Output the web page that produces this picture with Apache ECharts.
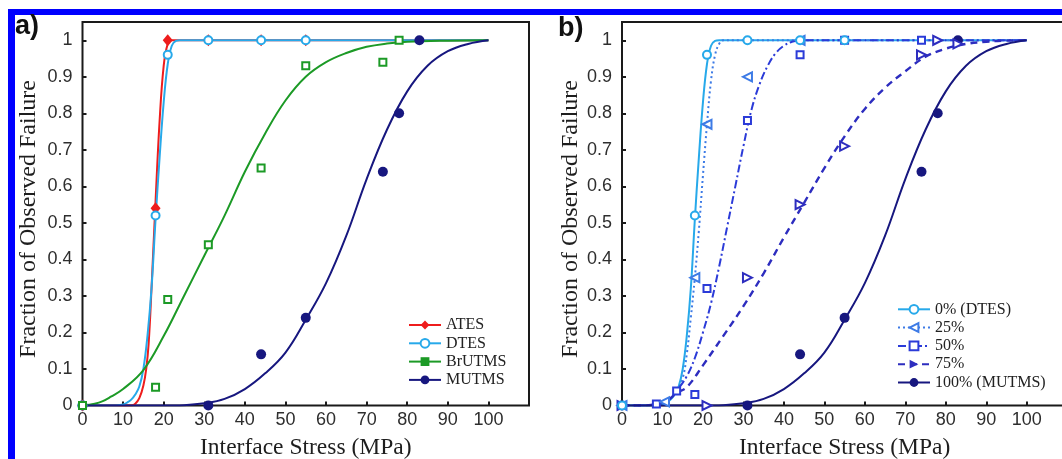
<!DOCTYPE html>
<html>
<head>
<meta charset="utf-8">
<script src="https://cdn.jsdelivr.net/npm/echarts@6/dist/echarts.min.js"></script>
<style>
html, body { margin: 0; padding: 0; background: #fff; }
#chart { width: 1062px; height: 459px; }
</style>
</head>
<body>
<div id="chart"></div>
<script>
// Fraction of observed failure versus interface stress (MPa)

// ---- panel a: measured points [stress, fraction] ----
const atesPts   = [[0, 0], [18, 0.54], [21, 1], [31, 1], [44, 1], [55, 1]];
const dtesPts   = [[0, 0], [18, 0.52], [21, 0.96], [31, 1], [44, 1], [55, 1]];
const brutmsPts = [[0, 0], [18, 0.05], [21, 0.29], [31, 0.44], [44, 0.65], [55, 0.93], [74, 0.94], [78, 1]];
const mutmsPts  = [[0, 0], [31, 0], [44, 0.14], [55, 0.24], [74, 0.64], [78, 0.8], [83, 1]];

// ---- fitted curves ----
const atesFit = [[0, 0], [12, 0], [13, 0.005], [14, 0.02], [15, 0.055], [15.7, 0.1], [16.3, 0.17], [17, 0.32],
  [18, 0.56], [19, 0.78], [20, 0.93], [21, 0.99], [22, 1], [100, 1]];
const dtesFit = [[0, 0], [8, 0], [10, 0.003], [11, 0.008], [12, 0.016], [13, 0.03], [14, 0.052], [15, 0.1],
  [16, 0.19], [17, 0.32], [18, 0.51], [19, 0.68], [20, 0.83], [21, 0.935], [22, 0.985], [23, 0.998], [24, 1], [100, 1]];
const brutmsFit = [[0, 0], [3, 0.005], [5, 0.012], [7, 0.024], [10, 0.045], [15, 0.097], [20, 0.19], [25, 0.3],
  [30, 0.41], [35, 0.52], [40, 0.64], [45, 0.745], [50, 0.835], [55, 0.9], [60, 0.94], [65, 0.965], [70, 0.982],
  [75, 0.991], [80, 0.996], [90, 0.999], [100, 1]];
const mutmsFit = [[0, 0], [20, 0], [25, 0.001], [30, 0.006], [35, 0.018], [40, 0.045], [45, 0.088], [50, 0.145],
  [55, 0.235], [60, 0.335], [65, 0.465], [70, 0.62], [75, 0.755], [80, 0.86], [85, 0.93], [90, 0.97], [95, 0.99], [100, 1]];

// ---- panel b: mixtures (0% = DTES, 100% = MUTMS) ----
const mix25Pts = [[0, 0], [10.5, 0.01], [18, 0.35], [21, 0.77], [31, 0.9], [44, 1]];
const mix50Pts = [[0, 0], [8.5, 0.004], [13.5, 0.04], [18, 0.03], [21, 0.32], [31, 0.78], [44, 0.96], [55, 1], [74, 1]];
const mix75Pts = [[0, 0], [21, 0], [31, 0.35], [44, 0.55], [55, 0.71], [74, 0.96], [78, 1], [83, 0.99]];

const mix25Fit = [[0, 0], [5, 0], [8, 0.003], [10, 0.008], [12, 0.02], [13.5, 0.04], [15, 0.075], [16, 0.14],
  [17, 0.24], [18, 0.35], [19, 0.48], [20, 0.63], [21, 0.77], [22, 0.89], [23, 0.96], [24, 0.99], [25, 1], [100, 1]];
const mix50Fit = [[0, 0], [5, 0], [8, 0.003], [10, 0.008], [12, 0.02], [13.5, 0.04], [16, 0.08], [18, 0.13],
  [20, 0.2], [22, 0.28], [24, 0.38], [26, 0.49], [28, 0.6], [30, 0.71], [32, 0.81], [34, 0.88], [36, 0.93],
  [38, 0.965], [40, 0.985], [42, 0.996], [44, 1], [100, 1]];
const mix75Fit = [[0, 0], [5, 0], [8, 0.003], [10, 0.008], [12, 0.02], [13.5, 0.035], [16, 0.05], [20, 0.11],
  [25, 0.19], [30, 0.272], [35, 0.362], [40, 0.46], [45, 0.555], [50, 0.65], [55, 0.737], [60, 0.812], [65, 0.87],
  [70, 0.915], [75, 0.955], [80, 0.977], [85, 0.99], [90, 0.996], [95, 0.999], [100, 1]];

// legend labels and titles
const namesA = ['ATES', 'DTES', 'BrUTMS', 'MUTMS'];
const namesB = ['0% (DTES)', '25%', '50%', '75%', '100% (MUTMS)'];
const xTitle = 'Interface Stress (MPa)';
const yTitle = 'Fraction of Observed Failure';

const SANS = '"Liberation Sans", Arial, sans-serif';
const SERIF = '"Liberation Serif", "Times New Roman", serif';
const INK = '#1a1a1a';

const C = {
  red: '#ee1c1c', cyan: '#27a9ea', green: '#1c9a26', navy: '#17177f',
  m25: '#3d7be6', m50: '#2b3bd8', m75: '#2d2dbf'
};

function xAxisFor(gridIndex) {
  return {
    type: 'value', gridIndex: gridIndex, min: 0, max: 110, interval: 10,
    name: xTitle, nameLocation: 'middle', nameGap: 30,
    nameTextStyle: { fontFamily: SERIF, fontSize: 23.5, color: '#1e1e1e' },
    axisLine: { show: false },
    axisTick: { show: true, inside: true, length: 4, lineStyle: { color: INK, width: 2 } },
    axisLabel: { margin: 6, fontFamily: SANS, fontSize: 18, color: '#2e2e2e',
      formatter: function (v) { return v > 100 ? '' : String(v); } },
    splitLine: { show: false }
  };
}
function yAxisFor(gridIndex) {
  return {
    type: 'value', gridIndex: gridIndex, min: 0, max: 1.05, interval: 0.1,
    axisLine: { show: false },
    axisTick: { show: true, inside: true, length: 4, lineStyle: { color: INK, width: 2 } },
    axisLabel: { margin: 10, fontFamily: SANS, fontSize: 18, color: '#2e2e2e',
      formatter: function (v) { return v > 1.001 ? '' : String(+v.toFixed(2)); } },
    splitLine: { show: false }
  };
}

function fitLine(name, data, idx, color, symbol, rotate, lineType, width) {
  return {
    type: 'line', name: name, data: data, xAxisIndex: idx, yAxisIndex: idx,
    smooth: 0.4, showSymbol: false, symbol: symbol, symbolRotate: rotate || 0,
    color: color, silent: true,
    lineStyle: { color: color, width: width || 2, type: lineType || 'solid' },
    z: 2
  };
}
function points(name, data, idx, color, symbol, size, rotate) {
  return {
    type: 'scatter', name: name, data: data, xAxisIndex: idx, yAxisIndex: idx,
    symbol: symbol, symbolSize: size, symbolRotate: rotate || 0,
    itemStyle: { color: color, opacity: 1 }, silent: true, z: 3
  };
}

const series = [
  // panel a curves
  fitLine('ATES', atesFit, 0, C.red, 'diamond'),
  fitLine('DTES', dtesFit, 0, C.cyan, 'emptyCircle'),
  fitLine('BrUTMS', brutmsFit, 0, C.green, 'rect'),
  fitLine('MUTMS', mutmsFit, 0, C.navy, 'circle'),
  // panel a points
  points('MUTMS', mutmsPts, 0, C.navy, 'circle', 10),
  points('ATES', atesPts, 0, C.red, 'diamond', [10, 12]),
  points('DTES', dtesPts, 0, C.cyan, 'emptyCircle', 8),
  points('BrUTMS', brutmsPts, 0, C.green, 'emptyRect', 7),

  // panel b curves
  fitLine('0% (DTES)', dtesFit, 1, C.cyan, 'emptyCircle'),
  fitLine('25%', mix25Fit, 1, C.m25, 'emptyTriangle', 90, [2, 3]),
  fitLine('50%', mix50Fit, 1, C.m50, 'emptyRect', 0, [8, 3, 2, 3]),
  fitLine('75%', mix75Fit, 1, C.m75, 'triangle', -90, [7, 5], 2.4),
  fitLine('100% (MUTMS)', mutmsFit, 1, C.navy, 'circle'),
  // panel b points
  points('100% (MUTMS)', mutmsPts, 1, C.navy, 'circle', 10),
  points('75%', mix75Pts, 1, C.m75, 'emptyTriangle', 9, -90),
  points('50%', mix50Pts, 1, C.m50, 'emptyRect', 7),
  points('25%', mix25Pts, 1, C.m25, 'emptyTriangle', 9, 90),
  points('0% (DTES)', dtesPts, 1, C.cyan, 'emptyCircle', 8)
];

const legendBase = {
  orient: 'vertical', padding: 0, itemGap: 2.3, itemWidth: 32, itemHeight: 11,
  selectedMode: false,
  textStyle: { fontFamily: SERIF, fontSize: 16, lineHeight: 16, color: '#222' }
};

function yTitleAt(cx) {
  return {
    type: 'text', x: cx, y: 219, rotation: Math.PI / 2, silent: true,
    style: { text: yTitle, font: '24px ' + SERIF, fill: '#1e1e1e', align: 'center', verticalAlign: 'middle' }
  };
}

const gridBase = { top: 22, height: 383.5, show: true, borderColor: INK, borderWidth: 2, outerBoundsMode: 'none', containLabel: false };

const option = {
  backgroundColor: '#ffffff',
  animation: false,
  grid: [
    Object.assign({}, gridBase, { left: 82.5, width: 446.5 }),
    Object.assign({}, gridBase, { left: 622, width: 445.2 })
  ],
  xAxis: [xAxisFor(0), xAxisFor(1)],
  yAxis: [yAxisFor(0), yAxisFor(1)],
  legend: [
    Object.assign({}, legendBase, { left: 408, top: 317, data: namesA }),
    Object.assign({}, legendBase, { left: 897, top: 301.3, data: namesB })
  ],
  graphic: [
    { type: 'rect', x: 8, y: 9, shape: { width: 1054, height: 6 }, style: { fill: '#0000ff' }, silent: true },
    { type: 'rect', x: 8, y: 9, shape: { width: 7, height: 450 }, style: { fill: '#0000ff' }, silent: true },
    { type: 'text', x: 15, y: 13, style: { text: 'a)', font: 'bold 27px ' + SANS, fill: '#111' } },
    { type: 'text', x: 558, y: 15, style: { text: 'b)', font: 'bold 27px ' + SANS, fill: '#111' } },
    yTitleAt(29),
    yTitleAt(571)
  ],
  series: series
};

const chart = echarts.init(document.getElementById('chart'), null, { renderer: 'canvas' });
chart.setOption(option);
</script>
</body>
</html>
